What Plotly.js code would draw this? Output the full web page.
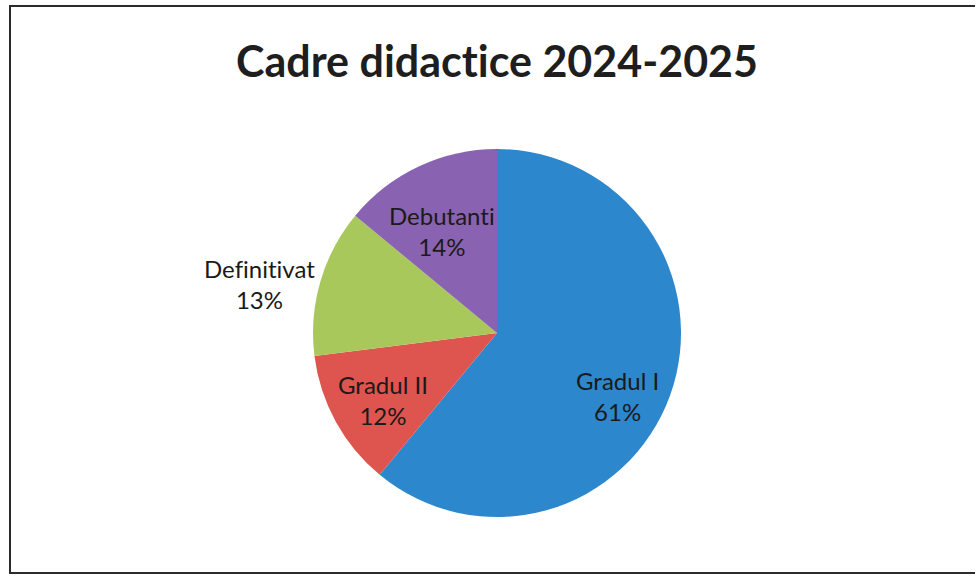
<!DOCTYPE html>
<html>
<head>
<meta charset="utf-8">
<script src="https://cdn.plot.ly/plotly-3.0.1.min.js"></script>
<style>
  html, body { margin: 0; padding: 0; background: #fff; }
  #frame { position: absolute; left: 9px; top: 5px; width: 966px; height: 569px; border: 2px solid #2b2b2b; border-right: none; box-sizing: border-box; }
  #chart { position: absolute; left: 0; top: 0; width: 976px; height: 576px; }
  text { font-variant-ligatures: none; font-feature-settings: "liga" 0, "clig" 0; }
</style>
</head>
<body>
<div id="chart"></div>
<div id="frame"></div>
<script>
const categories = ["Gradul I", "Gradul II", "Definitivat", "Debutanti"];
const values = [61, 12, 13, 14];
const percentLabels = ["61%", "12%", "13%", "14%"];
const colors = ["#2c87cd", "#de544f", "#a8c85c", "#8a62b2"];
// label anchor positions in pixels (center of two-line label)
const labelPx = [[617, 396], [383, 400], [259, 284], [442, 231]];

const W = 976, H = 576;
const pieTop = 149, pieBottom = 517, cx = 497;
const r = (pieBottom - pieTop) / 2;

const annotations = categories.map((c, i) => ({
  text: c + "<br>" + percentLabels[i],
  x: labelPx[i][0] / W, y: 1 - labelPx[i][1] / H,
  xref: "paper", yref: "paper", xanchor: "center", yanchor: "middle",
  showarrow: false, align: "center",
  font: { family: "Lato, Carlito, sans-serif", size: 24, color: "#1a1a1a" }
}));

const data = [{
  type: "pie",
  labels: categories,
  values: values,
  sort: false,
  direction: "clockwise",
  rotation: 0,
  marker: { colors: colors, line: { width: 0 } },
  textinfo: "none",
  hoverinfo: "label+percent",
  showlegend: false,
  domain: { x: [(cx - r) / W, (cx + r) / W], y: [1 - pieBottom / H, 1 - pieTop / H] }
}];

const layout = {
  width: W, height: H,
  margin: { l: 0, r: 0, t: 0, b: 0 },
  paper_bgcolor: "#ffffff",
  title: {
    text: "<b>Cadre didactice 2024-2025</b>",
    x: 497 / W, xanchor: "center",
    y: 1 - 62 / H, yref: "container", yanchor: "middle",
    font: { family: "Lato, Carlito, sans-serif", size: 43, color: "#1e1e1e" }
  },
  annotations: annotations,
  showlegend: false
};

Plotly.newPlot("chart", data, layout, { displayModeBar: false, staticPlot: true });
</script>
</body>
</html>
